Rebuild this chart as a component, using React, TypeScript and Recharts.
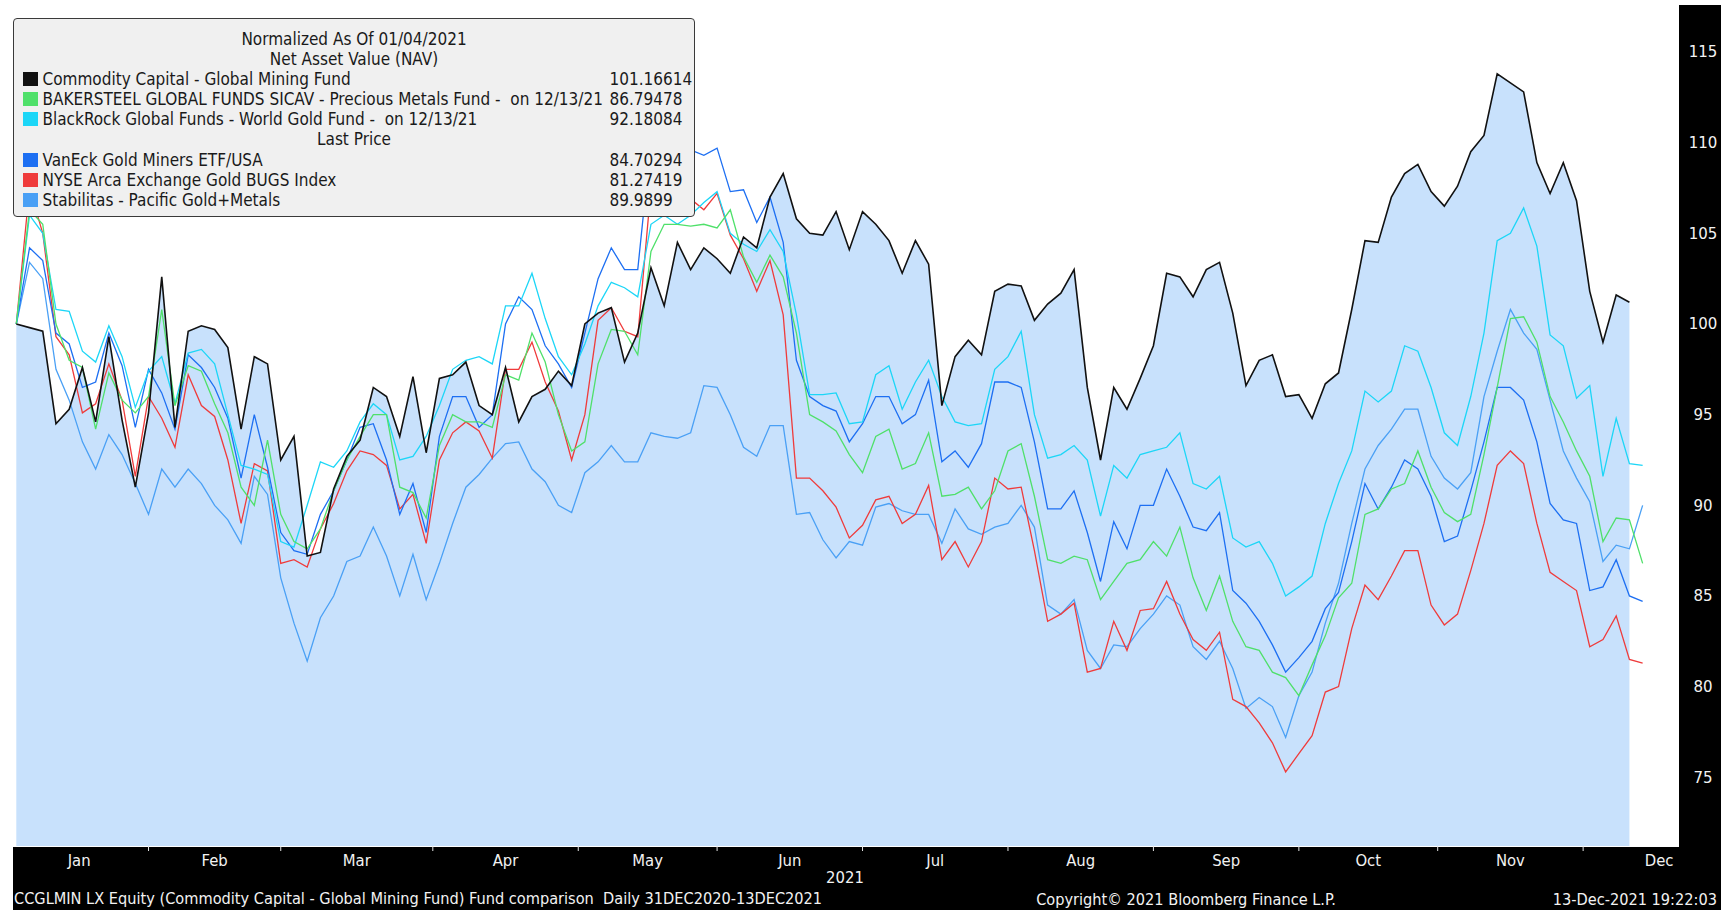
import React from 'react';
import { ComposedChart, Area, Line, XAxis, YAxis } from 'recharts';

// weekday index from 31DEC2020 (0), every second trading day
const days = [
  2, 4, 6, 8, 10, 12, 14, 16, 18, 20, 22, 24, 26, 28, 30, 32, 34, 36, 38, 40,
  42, 44, 46, 48, 50, 52, 54, 56, 58, 60, 62, 64, 66, 68, 70, 72, 74, 76, 78, 80,
  82, 84, 86, 88, 90, 92, 94, 96, 98, 100, 102, 104, 106, 108, 110, 112, 114, 116, 118, 120,
  122, 124, 126, 128, 130, 132, 134, 136, 138, 140, 142, 144, 146, 148, 150, 152, 154, 156, 158, 160,
  162, 164, 166, 168, 170, 172, 174, 176, 178, 180, 182, 184, 186, 188, 190, 192, 194, 196, 198, 200,
  202, 204, 206, 208, 210, 212, 214, 216, 218, 220, 222, 224, 226, 228, 230, 232, 234, 236, 238, 240,
  242, 244, 246, 248,
];

// Commodity Capital - Global Mining Fund (NAV)
const ccg = [
  100.0, 99.8, 99.6, 94.5, 95.3, 97.6, 94.6, 99.3, 94.7, 91.0,
  95.1, 102.6, 94.3, 99.6, 99.9, 99.7, 98.7, 94.2, 98.2, 97.8,
  92.5, 93.8, 87.2, 87.4, 90.9, 92.7, 93.6, 96.5, 96.0, 93.8,
  97.1, 92.9, 97.0, 97.2, 97.9, 95.5, 95.0, 97.6, 94.6, 96.0,
  96.4, 97.4, 96.6, 100.0, 100.6, 100.9, 97.9, 99.5, 103.1, 101.0,
  104.5, 103.0, 104.2, 103.6, 102.8, 104.8, 104.2, 107.0, 108.3, 105.8,
  105.0, 104.9, 106.2, 104.1, 106.2, 105.5, 104.6, 102.8, 104.6, 103.3,
  95.5, 98.2, 99.1, 98.3, 101.8, 102.2, 102.1, 100.2, 101.1, 101.7,
  103.0, 96.5, 92.5, 96.5, 95.3, 97.0, 98.8, 102.8, 102.6, 101.5,
  103.0, 103.4, 100.6, 96.6, 98.0, 98.3, 96.0, 96.1, 94.8, 96.7,
  97.3, 100.8, 104.6, 104.5, 107.0, 108.3, 108.8, 107.3, 106.5, 107.6,
  109.5, 110.4, 113.8, 113.3, 112.8, 108.9, 107.2, 108.9, 106.8, 101.8,
  99.0, 101.6, 101.2, null,
];

// BAKERSTEEL GLOBAL FUNDS SICAV - Precious Metals Fund
const bak = [
  100.0, 106.3, 105.5, 100.0, 98.0, 97.6, 94.2, 97.3, 95.8, 95.1,
  96.0, 100.8, 95.5, 97.7, 97.4, 95.6, 94.0, 91.0, 90.0, 93.6,
  89.5, 88.0, 87.6, 88.7, 90.8, 92.5, 93.8, 95.0, 95.0, 91.0,
  90.7, 89.3, 93.3, 95.0, 94.6, 94.6, 94.3, 97.2, 96.9, 99.5,
  97.9, 95.0, 93.0, 93.5, 97.8, 99.7, 99.6, 98.3, 104.0, 105.5,
  105.5, 105.4, 105.5, 105.3, 106.3, 103.7, 102.3, 103.8, 102.6, 99.5,
  95.0, 94.6, 94.1, 92.8, 91.8, 93.8, 94.2, 92.0, 92.3, 94.0,
  90.5, 90.6, 91.0, 89.8, 90.8, 93.0, 93.4, 90.5, 87.0, 86.8,
  87.2, 87.0, 84.8, 85.8, 86.8, 87.0, 88.0, 87.2, 88.8, 86.0,
  84.2, 86.1, 83.6, 82.2, 82.0, 80.8, 80.5, 79.5, 81.2, 82.8,
  84.9, 85.7, 89.5, 89.8, 90.9, 91.2, 93.0, 91.0, 89.6, 89.1,
  89.5, 92.8, 96.5, 100.3, 100.4, 99.0, 96.0, 94.6, 93.0, 91.6,
  88.0, 89.3, 89.2, 86.8,
];

// BlackRock Global Funds - World Gold Fund
const blk = [
  100.0, 106.0, 105.0, 100.8, 100.7, 98.5, 97.9, 99.9, 98.2, 95.4,
  97.4, 98.2, 95.6, 98.4, 98.6, 97.8, 95.0, 92.2, 92.0, 91.7,
  88.0, 87.7, 90.0, 92.4, 92.1, 93.0, 94.6, 95.6, 95.0, 92.5,
  92.7, 93.8, 95.5, 97.5, 98.0, 98.2, 97.8, 101.0, 101.0, 102.8,
  100.3, 98.2, 97.2, 98.9, 101.0, 102.3, 102.0, 101.5, 105.5, 106.0,
  105.5, 106.0, 106.7, 107.3, 105.0, 104.4, 104.0, 105.2, 104.0, 100.5,
  96.1, 96.1, 96.2, 94.5, 94.6, 97.2, 97.7, 95.3, 96.8, 98.0,
  96.0, 94.6, 94.4, 94.5, 97.5, 98.2, 99.6, 95.0, 92.6, 92.8,
  93.3, 92.5, 89.4, 92.2, 91.5, 92.8, 93.0, 93.2, 94.0, 91.2,
  90.9, 91.6, 88.2, 87.7, 88.0, 86.8, 85.0, 85.5, 86.1, 89.0,
  91.2, 93.0, 96.3, 95.7, 96.3, 98.8, 98.5, 96.5, 94.0, 93.3,
  96.0, 99.5, 104.6, 105.0, 106.4, 104.3, 99.4, 98.8, 95.9, 96.6,
  91.6, 94.8, 92.3, 92.2,
];

// VanEck Gold Miners ETF/USA
const gdx = [
  100.0, 104.2, 103.5, 99.5, 98.9, 96.5, 96.8, 99.5, 97.7, 94.3,
  97.5, 96.2, 94.2, 98.3, 97.6, 96.5, 94.8, 91.5, 95.0, 92.1,
  88.5, 87.5, 87.3, 89.5, 90.8, 92.5, 94.3, 94.5, 92.5, 89.5,
  91.2, 88.5, 93.8, 96.0, 96.0, 94.3, 95.0, 100.0, 101.5, 100.8,
  98.8, 97.8, 96.5, 99.5, 102.5, 104.2, 103.0, 103.0, 110.1, 109.6,
  109.5, 109.6, 109.3, 109.7, 107.3, 107.4, 105.6, 107.0, 104.5, 98.0,
  96.0, 95.5, 95.2, 93.5, 94.5, 96.0, 96.0, 94.5, 95.0, 96.9,
  92.4, 93.0, 92.1, 93.4, 96.8, 96.8, 96.5, 93.5, 89.8, 89.8,
  90.8, 88.5, 85.8, 89.1, 87.6, 90.0, 90.0, 92.0, 90.5, 88.8,
  88.6, 89.6, 85.3, 84.6, 83.6, 82.3, 80.8, 81.6, 82.5, 84.3,
  85.2, 88.0, 91.2, 89.8, 91.0, 92.5, 92.0, 90.5, 88.0, 88.3,
  90.8, 93.5, 96.5, 96.5, 95.8, 93.5, 90.1, 89.2, 89.0, 85.3,
  85.5, 87.0, 85.0, 84.7,
];

// NYSE Arca Exchange Gold BUGS Index
const hui = [
  100.0, 107.5, 105.0, 99.3, 98.3, 95.1, 95.6, 97.8, 95.8, 91.6,
  96.0, 94.8, 93.2, 97.2, 95.5, 94.9, 92.5, 89.0, 92.3, 91.9,
  86.8, 87.0, 86.6, 88.7, 90.1, 91.9, 93.0, 92.8, 92.2, 89.8,
  90.6, 87.9, 92.5, 94.0, 94.6, 94.1, 92.6, 97.5, 97.5, 99.0,
  96.8, 95.2, 92.5, 95.0, 100.2, 100.9, 99.6, 99.3, 107.5, 107.2,
  107.1, 106.9, 106.3, 107.2, 104.9, 103.6, 101.8, 103.5, 100.5, 91.5,
  91.5, 90.8, 89.9, 88.2, 88.9, 90.3, 90.5, 89.0, 89.5, 91.1,
  87.0, 88.0, 86.6, 88.0, 91.5, 90.9, 91.0, 87.5, 83.6, 84.0,
  84.6, 80.8, 81.0, 83.6, 82.0, 84.2, 84.3, 85.8, 84.0, 82.6,
  82.0, 83.0, 79.3, 78.9, 78.0, 76.9, 75.3, 76.3, 77.3, 79.7,
  80.0, 83.2, 85.6, 84.8, 86.1, 87.5, 87.5, 84.5, 83.4, 84.0,
  86.4, 89.0, 92.2, 93.0, 92.3, 89.0, 86.3, 85.8, 85.3, 82.2,
  82.6, 83.9, 81.5, 81.3,
];

// Stabilitas - Pacific Gold+Metals
const stab = [
  100.0, 103.4, 102.5, 97.5, 95.8, 93.5, 92.0, 93.9, 92.8, 91.2,
  89.5, 92.0, 91.0, 92.0, 91.2, 90.0, 89.2, 87.9, 91.6, 90.6,
  86.0, 83.5, 81.4, 83.8, 85.0, 86.9, 87.2, 88.8, 87.2, 85.0,
  87.3, 84.8, 86.8, 89.0, 91.0, 91.7, 92.6, 93.4, 93.5, 92.0,
  91.3, 90.0, 89.6, 91.8, 92.4, 93.3, 92.4, 92.4, 94.0, 93.8,
  93.7, 94.0, 96.6, 96.5, 95.0, 93.2, 92.7, 94.4, 94.4, 89.5,
  89.6, 88.1, 87.1, 88.0, 87.8, 89.9, 90.1, 89.7, 89.5, 89.5,
  87.9, 89.8, 88.7, 88.4, 88.8, 89.0, 90.0, 88.8, 84.5, 84.0,
  84.8, 82.0, 81.0, 82.3, 82.2, 83.2, 84.0, 85.0, 84.5, 82.2,
  81.5, 82.5, 81.0, 78.8, 79.4, 78.9, 77.2, 79.5, 80.8, 83.5,
  85.7, 89.0, 92.0, 93.3, 94.2, 95.3, 95.3, 92.7, 91.5, 90.9,
  91.8, 96.0, 98.5, 100.8, 99.5, 98.6, 95.8, 93.0, 91.5, 90.2,
  86.9, 87.8, 87.6, 90.0,
];

const months = ['Jan', 'Feb', 'Mar', 'Apr', 'May', 'Jun', 'Jul', 'Aug', 'Sep', 'Oct', 'Nov', 'Dec'];
// first trading day of each month (weekday index), last entry = Jan 2022
const monthStarts = [1, 22, 42, 65, 87, 108, 130, 152, 174, 196, 217, 239, 262];
const yTicks = [75, 80, 85, 90, 95, 100, 105, 110, 115];

const legendNames = [
  'Commodity Capital - Global Mining Fund',
  'BAKERSTEEL GLOBAL FUNDS SICAV - Precious Metals Fund -  on 12/13/21',
  'BlackRock Global Funds - World Gold Fund -  on 12/13/21',
  'VanEck Gold Miners ETF/USA',
  'NYSE Arca Exchange Gold BUGS Index',
  'Stabilitas - Pacific Gold+Metals',
];
const legendValues = ['101.16614', '86.79478', '92.18084', '84.70294', '81.27419', '89.9899'];
const colors = ['#111111', '#4fe06a', '#1cd6f7', '#1d6ff2', '#ef3b3b', '#4aa0f5'];

const narrow = '"Liberation Sans Narrow", "Arial Narrow", "DejaVu Sans Condensed", sans-serif';

const rows = days.map((w, i) => ({
  w,
  ccg: ccg[i],
  bak: bak[i],
  blk: blk[i],
  gdx: gdx[i],
  hui: hui[i],
  stab: stab[i],
}));

const boundaries = monthStarts.slice(1, 12);
const mids = months.map((m, i) => (monthStarts[i] + monthStarts[i + 1]) / 2);
const xTicks = [...boundaries, ...mids];

const MonthTick = (props: any) => {
  const { x, payload } = props;
  const v = payload.value;
  if (boundaries.includes(v)) {
    return <line x1={x} x2={x} y1={846} y2={851} stroke="#e6e6e6" strokeWidth={1} />;
  }
  const idx = mids.indexOf(v);
  return (
    <text x={x} y={866} textAnchor="middle" fill="#f2f2f2" fontSize={16.5} fontFamily={narrow}>
      {months[idx]}
    </text>
  );
};

const PriceTick = (props: any) => {
  const { y, payload } = props;
  return (
    <text x={1703} y={y} dy="0.35em" textAnchor="middle" fill="#f2f2f2" fontSize={15} fontFamily='"DejaVu Sans", Verdana, sans-serif'>
      {payload.value}
    </text>
  );
};

const rowCenters = [79, 99, 119, 160, 180, 200];

export default function App() {
  return (
    <div style={{ position: 'absolute', left: 0, top: 0, width: 1730, height: 919, background: '#fff', overflow: 'hidden' }}>
      <div style={{ position: 'absolute', left: 1679, top: 5, width: 42, height: 905, background: '#000' }} />
      <div style={{ position: 'absolute', left: 13, top: 847, width: 1708, height: 63, background: '#000' }} />
      <div style={{ position: 'absolute', left: 0, top: 0 }}>
        <ComposedChart width={1730} height={919} data={rows} margin={{ top: 0, right: 9, bottom: 9, left: 13 }}>
          <XAxis
            dataKey="w"
            type="number"
            domain={[1.5, 253.5]}
            ticks={xTicks}
            interval={0}
            height={64}
            axisLine={false}
            tickLine={false}
            tick={MonthTick}
            allowDataOverflow
          />
          <YAxis
            orientation="right"
            width={42}
            domain={[71.21, 117.87]}
            ticks={yTicks}
            interval={0}
            axisLine={false}
            tickLine={false}
            tick={PriceTick}
            allowDataOverflow
          />
          <Area dataKey="ccg" type="linear" baseValue="dataMin" fill="#c8e1fc" fillOpacity={1} stroke="none" isAnimationActive={false} />
          <Line dataKey="stab" type="linear" stroke={colors[5]} strokeWidth={1.3} dot={false} isAnimationActive={false} />
          <Line dataKey="hui" type="linear" stroke={colors[4]} strokeWidth={1.3} dot={false} isAnimationActive={false} />
          <Line dataKey="gdx" type="linear" stroke={colors[3]} strokeWidth={1.3} dot={false} isAnimationActive={false} />
          <Line dataKey="blk" type="linear" stroke={colors[2]} strokeWidth={1.3} dot={false} isAnimationActive={false} />
          <Line dataKey="bak" type="linear" stroke={colors[1]} strokeWidth={1.3} dot={false} isAnimationActive={false} />
          <Line dataKey="ccg" type="linear" stroke={colors[0]} strokeWidth={1.6} dot={false} isAnimationActive={false} />
        </ComposedChart>
      </div>

      {/* legend box */}
      <div
        style={{
          position: 'absolute',
          left: 13,
          top: 18,
          width: 682,
          height: 199,
          background: '#f0f0f0',
          border: '1.5px solid #3a3a3a',
          borderRadius: 4,
          boxSizing: 'border-box',
          fontFamily: narrow,
          fontSize: 17,
          color: '#1a1a1a',
        }}
      >
        <div style={{ position: 'absolute', left: 0, right: 0, top: 39 - 18 - 11, lineHeight: '20px', textAlign: 'center' }}>
          Normalized As Of 01/04/2021
        </div>
        <div style={{ position: 'absolute', left: 0, right: 0, top: 59 - 18 - 11, lineHeight: '20px', textAlign: 'center' }}>
          Net Asset Value (NAV)
        </div>
        <div style={{ position: 'absolute', left: 0, right: 0, top: 139 - 18 - 11, lineHeight: '20px', textAlign: 'center' }}>
          Last Price
        </div>
        {legendNames.map((name, i) => (
          <div key={name} style={{ position: 'absolute', left: 0, right: 0, top: rowCenters[i] - 18 - 11, height: 20, lineHeight: '20px', whiteSpace: 'pre' }}>
            <span style={{ position: 'absolute', left: 8.5, top: 3, width: 15, height: 14, background: colors[i] }} />
            <span style={{ position: 'absolute', left: 28.5 }}>{name}</span>
            <span style={{ position: 'absolute', left: 595.5 }}>{legendValues[i]}</span>
          </div>
        ))}
      </div>

      {/* footer texts */}
      <div style={{ position: 'absolute', left: 745, width: 200, top: 868, lineHeight: '20px', textAlign: 'center', color: '#f2f2f2', fontFamily: narrow, fontSize: 16.5 }}>
        2021
      </div>
      <div style={{ position: 'absolute', left: 14, top: 889, lineHeight: '20px', color: '#f2f2f2', fontFamily: narrow, fontSize: 16.2, whiteSpace: 'pre' }}>
        CCGLMIN LX Equity (Commodity Capital - Global Mining Fund) Fund comparison  Daily 31DEC2020-13DEC2021
      </div>
      <div style={{ position: 'absolute', left: 1036, width: 300, top: 890, lineHeight: '20px', textAlign: 'center', color: '#f2f2f2', fontFamily: narrow, fontSize: 16.2, whiteSpace: 'pre' }}>
        Copyright© 2021 Bloomberg Finance L.P.
      </div>
      <div style={{ position: 'absolute', right: 1730 - 1717, top: 890, lineHeight: '20px', color: '#f2f2f2', fontFamily: narrow, fontSize: 16.2, whiteSpace: 'pre' }}>
        13-Dec-2021 19:22:03
      </div>
    </div>
  );
}
